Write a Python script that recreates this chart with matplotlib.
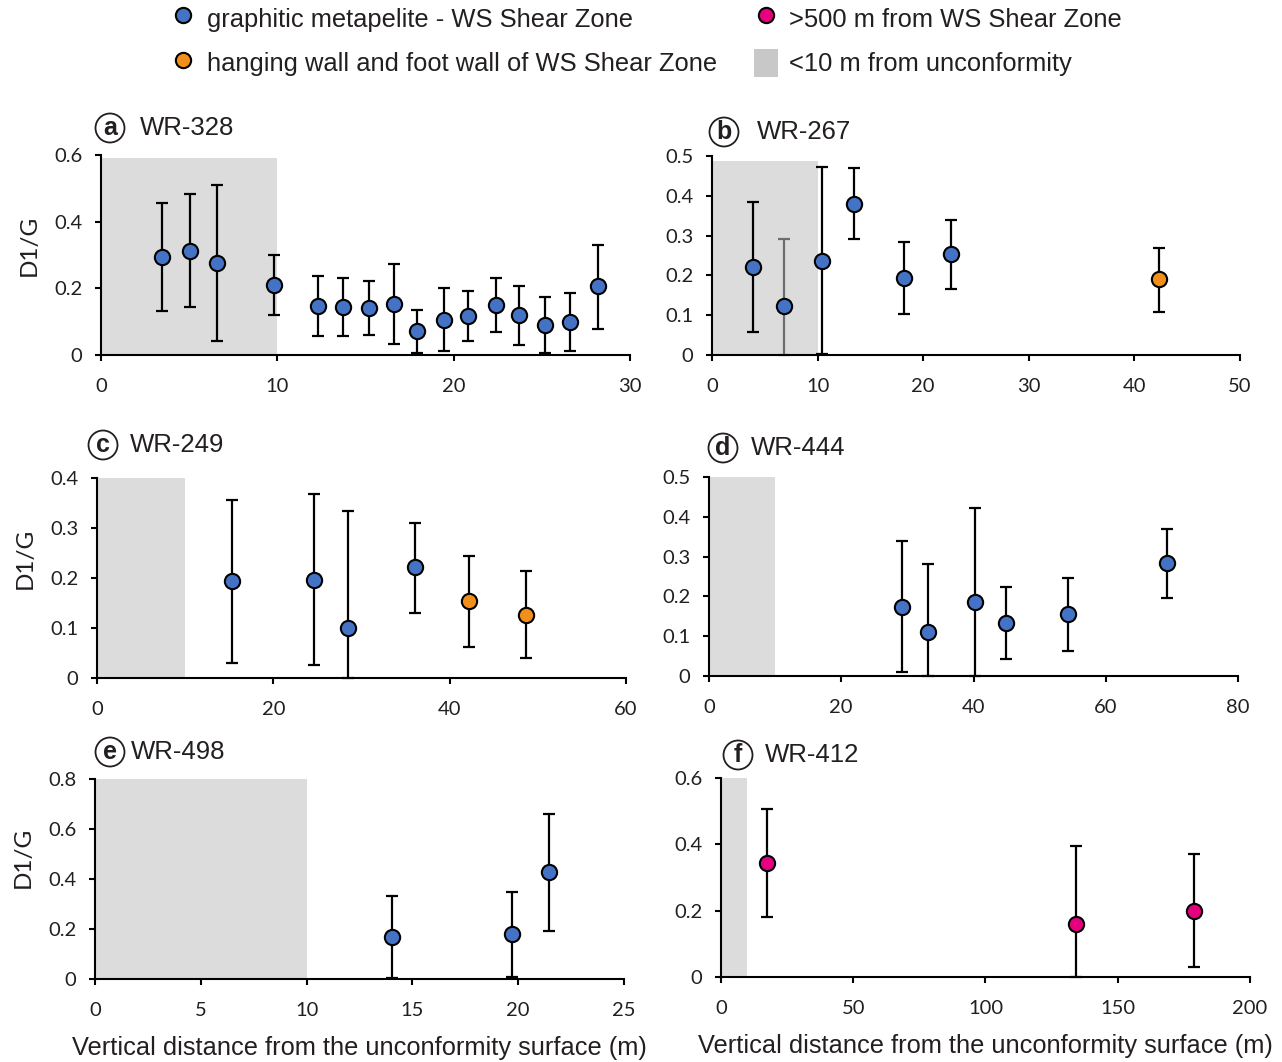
import matplotlib
matplotlib.use("Agg")
import matplotlib.pyplot as plt
from matplotlib.lines import Line2D
from matplotlib.patches import Patch

TXT = "#231f20"
BLUE = "#4472c4"
ORANGE = "#f28e1c"
MAGENTA = "#e4007f"
SHADE = "#dcdcdc"

# ---- data: distance (m), D1/G, error low / high ----
a_x = [3.46, 5.04, 6.6, 9.8, 12.32, 13.7, 15.22, 16.64, 17.94, 19.48, 20.84, 22.38, 23.68, 25.18, 26.6, 28.18]
a_y = [0.295, 0.313, 0.275, 0.209, 0.147, 0.143, 0.142, 0.154, 0.072, 0.105, 0.117, 0.150, 0.119, 0.090, 0.099, 0.206]
a_lo = [0.133, 0.143, 0.042, 0.121, 0.056, 0.056, 0.061, 0.034, 0.007, 0.011, 0.043, 0.068, 0.031, 0.007, 0.011, 0.078]
a_hi = [0.457, 0.483, 0.509, 0.300, 0.238, 0.230, 0.223, 0.274, 0.136, 0.202, 0.191, 0.232, 0.207, 0.174, 0.185, 0.331]
a_col = ["blue"] * 16

b_x = [3.89, 6.79, 10.37, 13.48, 18.18, 22.6, 42.36]
b_y = [0.221, 0.122, 0.237, 0.380, 0.193, 0.253, 0.190]
b_lo = [0.057, 0.0, 0.003, 0.291, 0.103, 0.166, 0.108]
b_hi = [0.384, 0.292, 0.473, 0.471, 0.284, 0.338, 0.270]
b_col = ["blue"] * 6 + ["orange"]

c_x = [15.26, 24.66, 28.45, 36.1, 42.15, 48.65]
c_y = [0.194, 0.197, 0.100, 0.222, 0.155, 0.127]
c_lo = [0.030, 0.026, 0.0, 0.130, 0.063, 0.041]
c_hi = [0.357, 0.368, 0.335, 0.311, 0.245, 0.214]
c_col = ["blue"] * 4 + ["orange"] * 2

d_x = [29.12, 33.13, 40.18, 44.85, 54.28, 69.2]
d_y = [0.174, 0.111, 0.186, 0.132, 0.155, 0.283]
d_lo = [0.011, 0.0, 0.0, 0.043, 0.063, 0.196]
d_hi = [0.338, 0.282, 0.421, 0.223, 0.246, 0.370]
d_col = ["blue"] * 6

e_x = [14.03, 19.73, 21.46]
e_y = [0.170, 0.180, 0.427]
e_lo = [0.005, 0.009, 0.194]
e_hi = [0.331, 0.350, 0.662]
e_col = ["blue"] * 3

f_x = [17.5, 134.2, 178.8]
f_y = [0.344, 0.159, 0.200]
f_lo = [0.182, 0.0, 0.029]
f_hi = [0.508, 0.394, 0.370]
f_col = ["magenta"] * 3

letters = ["a", "b", "c", "d", "e", "f"]
wells = ["WR-328", "WR-267", "WR-249", "WR-444", "WR-498", "WR-412"]
xlims = [30, 50, 60, 80, 25, 200]
xticks = [[0, 10, 20, 30], [0, 10, 20, 30, 40, 50], [0, 20, 40, 60],
          [0, 20, 40, 60, 80], [0, 5, 10, 15, 20, 25], [0, 50, 100, 150, 200]]
yticks = [[0, 0.2, 0.4, 0.6], [0, 0.1, 0.2, 0.3, 0.4, 0.5], [0, 0.1, 0.2, 0.3, 0.4],
          [0, 0.1, 0.2, 0.3, 0.4, 0.5], [0, 0.2, 0.4, 0.6, 0.8], [0, 0.2, 0.4, 0.6]]
ytick_labels = [["0", "0.2", "0.4", "0.6"], ["0", "0.1", "0.2", "0.3", "0.4", "0.5"],
                ["0", "0.1", "0.2", "0.3", "0.4"], ["0", "0.1", "0.2", "0.3", "0.4", "0.5"],
                ["0", "0.2", "0.4", "0.6", "0.8"], ["0", "0.2", "0.4", "0.6"]]
shade_top = [0.59, 0.487, 0.4, 0.5, 0.8, 0.6]
shade_end = 10

panels = [(a_x, a_y, a_lo, a_hi, a_col), (b_x, b_y, b_lo, b_hi, b_col),
          (c_x, c_y, c_lo, c_hi, c_col), (d_x, d_y, d_lo, d_hi, d_col),
          (e_x, e_y, e_lo, e_hi, e_col), (f_x, f_y, f_lo, f_hi, f_col)]

colour_map = {"blue": BLUE, "orange": ORANGE, "magenta": MAGENTA}

# axes boxes in pixels: left, top, right, bottom
boxes = [(101, 155, 630, 355), (712, 156, 1240, 355),
         (97, 478, 626, 678), (709, 477, 1238, 676),
         (95, 779, 624, 979), (721, 778, 1250, 977)]
# title spots (circle centre x, text x, y) in pixels
title_pos = [(110, 140, 128), (724, 757, 132), (103, 130, 445),
             (723, 751, 448), (110, 131, 752), (738, 765, 755)]
ylabel_y = [0.55, None, 0.6, None, 0.61, None]

W, H = 1282, 1062
fig = plt.figure(figsize=(W / 100, H / 100), dpi=100)
ARIAL = ["Liberation Sans", "DejaVu Sans"]
CALIBRI = ["Lato", "DejaVu Sans"]

for i, (xs, ys, lo, hi, cols) in enumerate(panels):
    l, t, r, b = boxes[i]
    ax = fig.add_axes([l / W, 1 - b / H, (r - l) / W, (b - t) / H])
    ax.fill_between([0, shade_end], 0, shade_top[i], color=SHADE, lw=0, zorder=0)
    for x, y, ylo, yhi, c in zip(xs, ys, lo, hi, cols):
        ecol = "#6d6d6d" if (i == 1 and x == b_x[1]) else "black"
        ax.errorbar([x], [y], yerr=[[y - ylo], [yhi - y]], fmt="none", ecolor=ecol,
                    elinewidth=1.6, capsize=4, capthick=1.6, zorder=2, clip_on=False)
        ax.plot(x, y, "o", ms=11, mfc=colour_map[c], mec="black", mew=1.5, zorder=3, clip_on=False)
    ax.set_xlim(0, xlims[i])
    ax.set_ylim(0, yticks[i][-1])
    ax.set_xticks(xticks[i])
    ax.set_xticklabels([str(v) for v in xticks[i]], family=CALIBRI, fontsize=14.5, color=TXT)
    ax.set_yticks(yticks[i])
    ax.set_yticklabels(ytick_labels[i], family=CALIBRI, fontsize=14.5, color=TXT)
    for s in ["top", "right"]:
        ax.spines[s].set_visible(False)
    for s in ["left", "bottom"]:
        ax.spines[s].set_linewidth(1.5)
        ax.spines[s].set_color("black")
    ax.tick_params(direction="out", length=4.5, width=1.5, color="black")
    ax.tick_params(axis="y", pad=9)
    ax.tick_params(axis="x", pad=12)
    if i % 2 == 0:
        ax.set_ylabel("D1/G", family=CALIBRI, fontsize=17.5, color=TXT)
        ax.yaxis.set_label_coords(-0.115, ylabel_y[i])
    if i >= 4:
        ax.set_xlabel("Vertical distance from the unconformity surface (m)",
                      family=ARIAL, fontsize=18.3, color=TXT, labelpad=12)

    cx, tx, ty = title_pos[i]
    fig.text(cx / W, 1 - ty / H, letters[i], family=ARIAL, fontsize=18, fontweight="bold",
             color=TXT, ha="center", va="center",
             bbox=dict(boxstyle="circle,pad=0.1", fc="white", ec=TXT, lw=1.3))
    fig.text(tx / W, 1 - ty / H, wells[i], family=ARIAL, fontsize=18.5, color=TXT,
             ha="left", va="center")

handles = [
    Line2D([], [], ls="none", marker="o", ms=11, mfc=BLUE, mec="black", mew=1.5),
    Line2D([], [], ls="none", marker="o", ms=11, mfc=ORANGE, mec="black", mew=1.5),
    Line2D([], [], ls="none", marker="o", ms=11, mfc=MAGENTA, mec="black", mew=1.5),
    Patch(facecolor="#c8c8c8", edgecolor="none"),
]
labels = ["graphitic metapelite - WS Shear Zone",
          "hanging wall and foot wall of WS Shear Zone",
          ">500 m from WS Shear Zone",
          "<10 m from unconformity"]
leg = fig.legend(handles, labels, ncol=2, loc="upper left", bbox_to_anchor=(148 / W, 1 + 19 / H),
                 frameon=False, prop={"family": ARIAL, "size": 18.4}, handlelength=0.94,
                 handleheight=1.33, handletextpad=0.45, columnspacing=1.46, labelspacing=0.64)
for txt in leg.get_texts():
    txt.set_color(TXT)

fig.savefig("out.png", dpi=100)
